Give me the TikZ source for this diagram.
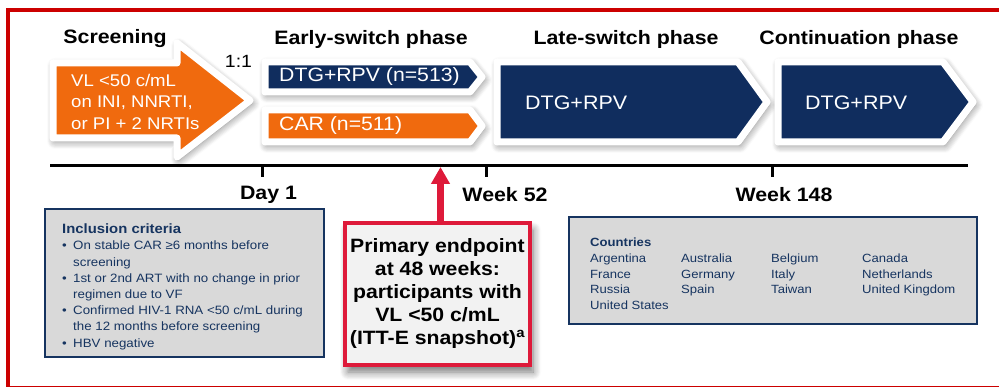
\documentclass[tikz,border=0pt]{standalone}
\usepackage{fontspec}
\setmainfont{Liberation Sans}[FakeStretch=1.1]
\usetikzlibrary{arrows.meta,shadows.blur}
\definecolor{navy}{RGB}{16,45,94}
\definecolor{boxnavy}{RGB}{22,52,96}
\definecolor{orng}{RGB}{240,106,14}
\definecolor{frame}{RGB}{204,0,0}
\definecolor{crim}{RGB}{222,26,58}
\definecolor{boxgray}{RGB}{217,217,217}
\definecolor{epgray}{RGB}{242,242,242}
\newcommand\myfs[2]{\fontsize{#1}{#2}\selectfont}
\tikzset{
  phasehdr/.style={font=\bfseries\myfs{19.4}{22}, inner sep=0pt},
  weeklbl/.style={font=\bfseries\myfs{19.4}{22}, inner sep=0pt},
  armshape/.style={draw=white, line width=7pt, line join=round,
    blur shadow={shadow xshift=2pt, shadow yshift=-3pt, shadow blur radius=8pt, shadow blur steps=8, shadow opacity=55}},
  armtext/.style={text=white, inner sep=0pt, anchor=west},
  tick/.style={line width=3pt},
  infobox/.style={draw=boxnavy, line width=2pt, fill=boxgray, inner sep=0pt},
}
\begin{document}
\begin{tikzpicture}[x=1pt,y=-1pt]
\useasboundingbox (0,0) rectangle (999,387);
% outer red frame
\draw[frame, line width=4pt] (8,10.5) rectangle (1012,387.5);

% phase headers
\node[phasehdr] (hscr) at (115,39) {Screening};
\node[phasehdr] (hearly) at (371,39) {Early-switch phase};
\node[phasehdr] (hlate) at (626,39) {Late-switch phase};
\node[phasehdr] (hcont) at (859,39) {Continuation phase};

% screening arrow
\path[armshape, fill=orng] (53,63) -- (177,63) -- (177,43) -- (250,100.5) -- (177,157) -- (177,138) -- (53,138) -- cycle;
\node[armtext, align=left, font=\myfs{16.9}{21.5}] (scrtext) at (71,101.5) {VL <50 c/mL\\on INI, NNRTI,\\or PI + 2 NRTIs};

\node[inner sep=0pt, font=\myfs{17.7}{20}] (ratio) at (238.5,61) {1:1};

% early-switch arms
\path[armshape, fill=navy] (265,62) -- (470,62) -- (482,77) -- (470,92) -- (265,92) -- cycle;
\node[armtext, font=\myfs{19.3}{22}] (dtg) at (279,77) {DTG+RPV (n=513)};
\path[armshape, fill=orng] (265,110) -- (470,110) -- (482,126) -- (470,142) -- (265,142) -- cycle;
\node[armtext, font=\myfs{19.3}{22}] (car) at (279,126) {CAR (n=511)};

% late-switch and continuation
\path[armshape, fill=navy] (497,62) -- (738,62) -- (767,102) -- (738,142) -- (497,142) -- cycle;
\node[armtext, font=\myfs{19.5}{22}] (late) at (525,103) {DTG+RPV};
\path[armshape, fill=navy] (778,62) -- (943,62) -- (973,102) -- (943,142) -- (778,142) -- cycle;
\node[armtext, font=\myfs{19.5}{22}] (cont) at (805,103) {DTG+RPV};

% timeline
\coordinate (tl0) at (50,166);
\coordinate (tl1) at (968,166);
\draw[line width=3pt] (tl0) -- (tl1);
\coordinate (d1) at (262,166);
\coordinate (w52) at (486,166);
\coordinate (w148) at (772,166);
\coordinate (ep) at (440.5,167);
\draw[tick] (d1) -- ++(0,11);
\draw[tick] (w52) -- ++(0,11);
\draw[tick] (w148) -- ++(0,11);
\node[weeklbl] (lday1) at (268.5,195) {Day 1};
\node[weeklbl] (lw52) at (505,195) {Week 52};
\node[weeklbl] (lw148) at (784,195) {Week 148};

% inclusion criteria
\node[infobox, minimum width=279pt, minimum height=148pt] (incl) at (184.5,283) {};
\node[anchor=north west, inner sep=0pt, text=boxnavy, align=left] (incltext) at (62,223.5) {%
  {\bfseries\myfs{13.5}{17}Inclusion criteria}\\[4.5pt]
  \myfs{12.1}{16.2}%
  \begin{tabular}[t]{@{}p{11pt}@{}l@{}}
  \textbullet & On stable CAR ≥6 months before\\
   & screening\\
  \textbullet & 1st or 2nd ART with no change in prior\\
   & regimen due to VF\\
  \textbullet & Confirmed HIV-1 RNA <50 c/mL during\\
   & the 12 months before screening\\
  \textbullet & HBV negative
  \end{tabular}};

% primary endpoint
\node[draw=crim, line width=4pt, fill=epgray, minimum width=185pt, minimum height=142pt, inner sep=0pt,
  align=center, font=\bfseries\myfs{19.3}{23},
  blur shadow={shadow xshift=3pt, shadow yshift=-7pt, shadow blur radius=8pt, shadow blur steps=8, shadow opacity=55}]
  (endpt) at (437.5,294) {Primary endpoint\\at 48 weeks:\\participants with\\VL <50 c/mL\\(ITT-E snapshot)\textsuperscript{a}};
\draw[crim, line width=6.5pt, -{Triangle[width=18pt,length=17pt]}] (endpt.north -| ep) -- (ep);

% countries
\node[infobox, minimum width=408pt, minimum height=107pt] (ctry) at (773,270.5) {};
\node[anchor=north west, inner sep=0pt, text=boxnavy, font=\myfs{11.9}{15.7}] (ctrytext) at (590,235.5) {%
  \begin{tabular}{@{}p{91pt}@{}p{90pt}@{}p{91pt}@{}l@{}}
  \multicolumn{4}{@{}l@{}}{\bfseries Countries}\\
  Argentina & Australia & Belgium & Canada\\
  France & Germany & Italy & Netherlands\\
  Russia & Spain & Taiwan & United Kingdom\\
  United States & & &
  \end{tabular}};
\end{tikzpicture}
\end{document}
